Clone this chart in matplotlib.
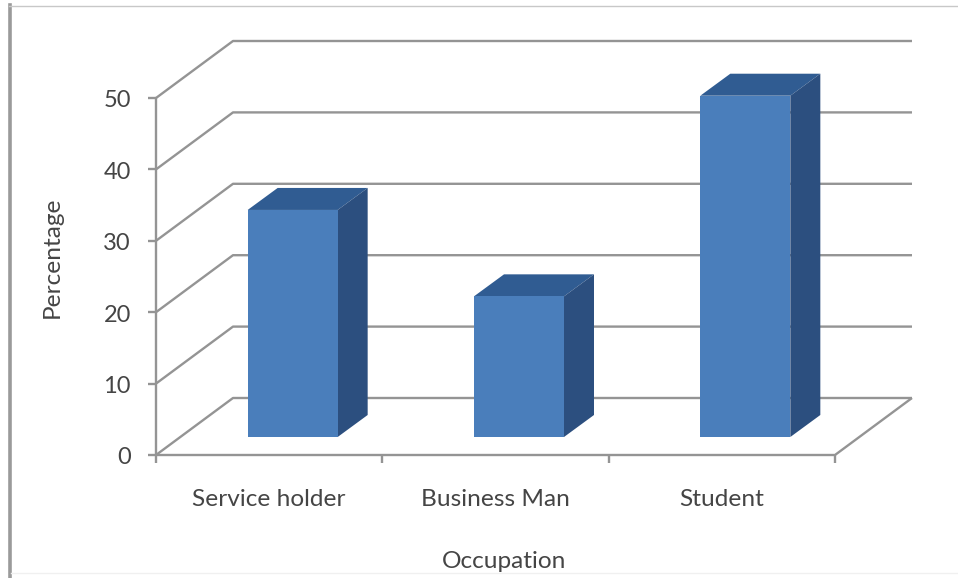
import matplotlib
matplotlib.use("Agg")
import matplotlib.pyplot as plt
from matplotlib.patches import Polygon
from matplotlib.lines import Line2D

categories = ["Service holder", "Business Man", "Student"]
values = [31.8, 19.7, 47.8]
y_ticks = [0, 10, 20, 30, 40, 50]

# Layout of the pseudo-3D box, in figure pixels
W, H = 958, 578
X_PER_CAT = 226.33
Y_PER_UNIT = 7.14
ORIGIN_X, ORIGIN_Y = 156, 455
WALL_DX, WALL_DY = 77, 57
BAR_WIDTH = 90
BAR_SHIFT_X, BAR_BASE_DY = 23.5, 18
BAR_DX, BAR_DY = 30, 22

GRID = "#949494"
TEXT = "#454545"
FRONT = "#4a7ebb"
TOP = "#305c92"
SIDE = "#2c4f7f"
LABEL_SIZE = 17.6

plt.rcParams["font.family"] = ["Lato", "DejaVu Sans"]
fig = plt.figure(figsize=(W / 100, H / 100), dpi=100)
ax = fig.add_axes([0, 0, 1, 1])
# Category and percentage units; offsets below are converted from pixels
ax.set_xlim(-0.5 - ORIGIN_X / X_PER_CAT, -0.5 + (W - ORIGIN_X) / X_PER_CAT)
ax.set_ylim((ORIGIN_Y - H) / Y_PER_UNIT, ORIGIN_Y / Y_PER_UNIT)
ax.axis("off")


def dx(px):
    return px / X_PER_CAT


def dy(px):
    return px / Y_PER_UNIT


x_left, x_right = -0.5, len(categories) - 0.5
line_kw = dict(color=GRID, lw=1.7, solid_capstyle="butt", zorder=1)

# Gridlines: sloped along the side wall, then straight across the back wall
for v in y_ticks:
    ax.plot([x_left, x_left + dx(WALL_DX), x_right + dx(WALL_DX)],
            [v, v + dy(WALL_DY), v + dy(WALL_DY)], **line_kw)
    ax.plot([x_left - dx(8), x_left], [v, v], **line_kw)
    ax.text(x_left - dx(25), v - dy(3), str(v), ha="right", va="center",
            fontsize=17, color=TEXT)

# Floor edge and value axis
ax.plot([x_left, x_left], [0, y_ticks[-1]], **line_kw)
ax.plot([x_left, x_right, x_right + dx(WALL_DX)],
        [0, 0, dy(WALL_DY)], **line_kw)
for i in range(len(categories) + 1):
    ax.plot([x_left + i, x_left + i], [0, -dy(8)], **line_kw)

# Bars: front face plus top and side faces
half = dx(BAR_WIDTH) / 2
for i, (name, v) in enumerate(zip(categories, values)):
    cx = i + dx(BAR_SHIFT_X)
    l, r = cx - half, cx + half
    base = dy(BAR_BASE_DY)
    top = base + v
    ox, oy = dx(BAR_DX), dy(BAR_DY)
    ax.add_patch(Polygon([(l, top), (r, top), (r + ox, top + oy), (l + ox, top + oy)],
                         fc=TOP, ec="none", zorder=3))
    ax.add_patch(Polygon([(r, base), (r + ox, base + oy), (r + ox, top + oy), (r, top)],
                         fc=SIDE, ec="none", zorder=3))
    ax.add_patch(Polygon([(l, base), (r, base), (r, top), (l, top)],
                         fc=FRONT, ec="none", zorder=4))
    ax.text(i, -dy(44.5), name, ha="center", va="center",
            fontsize=LABEL_SIZE, color=TEXT)

# Axis titles
ax.text(1 + dx(9), -dy(107), "Occupation", ha="center", va="center",
        fontsize=LABEL_SIZE, color=TEXT)
ax.text(x_left - dx(104), 27.2 + dy(3.5), "Percentage", rotation=90, ha="center",
        va="center", fontsize=LABEL_SIZE, color=TEXT)

# Chart frame
fig.add_artist(Line2D([9.5 / W, 9.5 / W], [0, 1 - 5 / H], color="#9a9a9a", lw=2.6))
fig.add_artist(Line2D([9 / W, 1], [1 - 5.5 / H, 1 - 5.5 / H], color="#c8c8c8", lw=1))
fig.add_artist(Line2D([11 / W, 1], [1 - 573 / H, 1 - 573 / H], color="#f0f0f0", lw=1))

fig.savefig("out.png", dpi=100)
